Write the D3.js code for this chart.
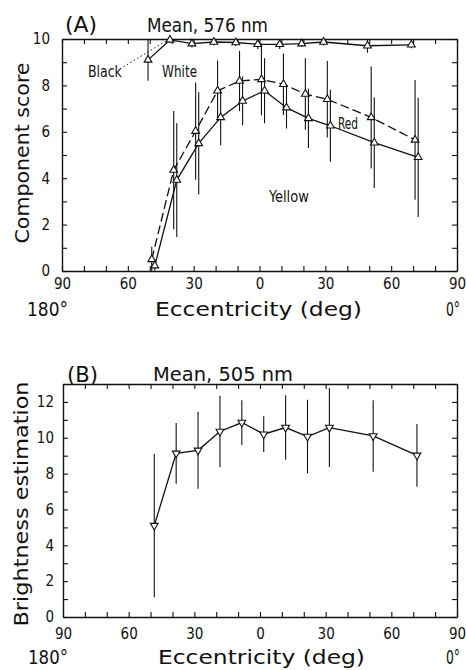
<!DOCTYPE html>
<html>
<head>
<meta charset="utf-8">
<script src="https://cdn.jsdelivr.net/npm/d3@7"></script>
<style>
  body { margin: 0; background: #fff; }
  text { font-family: "Liberation Sans Narrow", "DejaVu Sans", sans-serif; font-stretch: condensed; fill: #111; }
</style>
</head>
<body>
<script>
// Eccentricity of each test point (deg), negative = left of 0
const eccentricity = [-50, -40, -30, -20, -10, 0, 10, 20, 30, 50, 70];

// Panel A: component scores at 576 nm
const whiteScore = [9.1, 9.96, 9.8, 9.87, 9.85, 9.77, 9.77, 9.8, 9.87, 9.71, 9.75];
const whiteErr   = [0.9, 0, 0.17, 0.15, 0.15, 0.2, 0.2, 0.15, 0.15, 0.3, 0.15];
const yellowScore = [0.5, 4.35, 6.03, 7.77, 8.19, 8.26, 8.05, 7.63, 7.4, 6.62, 5.65];
const yellowErr   = [0.55, 2.55, 2.1, 1.3, 1.3, 1.55, 1.33, 1.54, 1.65, 2.2, 2.58];
const redScore = [0.23, 3.92, 5.5, 6.62, 7.33, 7.77, 7.04, 6.58, 6.26, 5.53, 4.9];
const redErr   = [0.3, 2.45, 2.2, 1.2, 1.05, 1.4, 0.9, 1.28, 1.55, 1.95, 2.57];

// Panel B: brightness estimation at 505 nm
const brightness = [5.1, 9.13, 9.3, 10.35, 10.85, 10.2, 10.57, 10.07, 10.57, 10.1, 9.02];
const brightErr  = [4.0, 1.7, 2.15, 2.0, 1.25, 1.0, 1.8, 2.05, 2.2, 2.0, 1.75];

// axis ticks
const xTicks = [-90, -80, -70, -60, -50, -40, -30, -20, -10, 0, 10, 20, 30, 40, 50, 60, 70, 80, 90];
const xLabelTicks = [-90, -60, -30, 0, 30, 60, 90];
const yTicksA = [0, 1, 2, 3, 4, 5, 6, 7, 8, 9, 10];
const yTicksB = [0, 1, 2, 3, 4, 5, 6, 7, 8, 9, 10, 11, 12, 13];

const svg = d3.select("body").append("svg")
  .attr("width", 466)
  .attr("height", 670);

const xA = d3.scaleLinear().domain([-90, 90]).range([62, 457]);
const yA = d3.scaleLinear().domain([0, 10]).range([271, 39]);
const xB = d3.scaleLinear().domain([-90, 90]).range([63, 457]);
const yB = d3.scaleLinear().domain([0, 13]).range([617, 384]);

function drawAxes(x, y, yTicks, xPad, yPad) {
  const [x0, x1] = x.range();
  const [y0, y1] = y.range();
  const fmtX = d => xLabelTicks.includes(d) ? Math.abs(d) : "";
  const fmtY = d => d % 2 === 0 ? d : "";

  const axes = [
    svg.append("g").attr("transform", `translate(0,${y0})`)
      .call(d3.axisBottom(x).tickValues(xTicks).tickSize(-5).tickSizeOuter(0).tickPadding(xPad).tickFormat(fmtX)),
    svg.append("g").attr("transform", `translate(0,${y1})`)
      .call(d3.axisTop(x).tickValues(xTicks).tickSize(-5).tickSizeOuter(0).tickFormat("")),
    svg.append("g").attr("transform", `translate(${x0},0)`)
      .call(d3.axisLeft(y).tickValues(yTicks).tickSize(-5).tickSizeOuter(0).tickPadding(yPad).tickFormat(fmtY)),
    svg.append("g").attr("transform", `translate(${x1},0)`)
      .call(d3.axisRight(y).tickValues(yTicks).tickSize(-5).tickSizeOuter(0).tickFormat(""))
  ];
  axes.forEach(a => {
    a.select(".domain").attr("stroke", "#111").attr("stroke-width", 1.4);
    a.selectAll(".tick line").attr("stroke", "#111").attr("stroke-width", 1.1);
    a.selectAll(".tick text").attr("font-size", 15).attr("fill", "#111")
      .style("font-family", '"Liberation Sans Narrow", "DejaVu Sans", sans-serif')
      .style("font-stretch", "condensed");
  });
}

function drawSeries(x, y, values, errs, offset, dashed, flip) {
  const pts = eccentricity.map((e, i) => ({ e: e + offset, v: values[i], err: errs[i] }));

  svg.append("path")
    .datum(pts)
    .attr("fill", "none")
    .attr("stroke", "#111")
    .attr("stroke-width", 1.3)
    .attr("stroke-dasharray", dashed ? "9,4" : null)
    .attr("d", d3.line().x(d => x(d.e)).y(d => y(d.v)));

  const [yLo, yHi] = y.domain();
  svg.append("g").selectAll("line")
    .data(pts.filter(d => d.err > 0))
    .join("line")
    .attr("x1", d => x(d.e)).attr("x2", d => x(d.e))
    .attr("y1", d => y(Math.min(yHi, d.v + d.err)))
    .attr("y2", d => y(Math.max(yLo, d.v - d.err)))
    .attr("stroke", "#111")
    .attr("stroke-width", 1.1);

  svg.append("g").selectAll("path")
    .data(pts)
    .join("path")
    .attr("d", d3.symbol(d3.symbolTriangle, 26))
    .attr("transform", d => `translate(${x(d.e)},${y(d.v)})${flip ? " rotate(180)" : ""}`)
    .attr("fill", "#fff")
    .attr("stroke", "#111")
    .attr("stroke-width", 1.1);
}

function addText(str, xPos, yPos, size, len, anchor, rotate) {
  const t = svg.append("text")
    .attr("font-size", size)
    .attr("text-anchor", anchor || "start")
    .text(str);
  if (len) t.attr("textLength", len).attr("lengthAdjust", "spacingAndGlyphs");
  if (rotate) {
    t.attr("transform", `translate(${xPos},${yPos}) rotate(-90)`);
  } else {
    t.attr("x", xPos).attr("y", yPos);
  }
  return t;
}

// ---------- Panel A ----------
drawAxes(xA, yA, yTicksA, 7, 12);
drawSeries(xA, yA, whiteScore, whiteErr, -0.8, false, false);
drawSeries(xA, yA, yellowScore, yellowErr, 0.9, true, false);
drawSeries(xA, yA, redScore, redErr, 2.3, false, false);

// dotted leader from the "Black" label
svg.append("line")
  .attr("x1", xA(-62)).attr("y1", yA(8.8))
  .attr("x2", xA(-42)).attr("y2", yA(9.95))
  .attr("stroke", "#111")
  .attr("stroke-width", 1)
  .attr("stroke-dasharray", "1.5,2.5");

addText("Black", xA(-78.2), yA(8.36), 15, 34);
addText("White", xA(-44.4), yA(8.36), 15, 35);
addText("Red", xA(35.8), yA(6.12), 15, 20);
addText("Yellow", xA(4.3), yA(2.97), 15, 40);

addText("(A)", 65, 32, 22, 32);
addText("Mean, 576 nm", 147, 32, 20, 121);
addText("Component score", 29, 153, 20, 181, "middle", true);
addText("180°", 27, 316, 20, 41);
addText("Eccentricity (deg)", 155, 316, 20, 207);
addText("0°", 446, 316, 20, 14);

// ---------- Panel B ----------
drawAxes(xB, yB, yTicksB, 11, 9);
drawSeries(xB, yB, brightness, brightErr, 1.7, false, true);

addText("(B)", 67, 382, 22, 31);
addText("Mean, 505 nm", 153, 381, 20, 140);
addText("Brightness estimation", 28, 504, 20, 245, "middle", true);
addText("180°", 28, 664, 19, 40);
addText("Eccentricity (deg)", 158, 664, 19, 207);
addText("0°", 446, 664, 19, 14);
</script>
</body>
</html>
